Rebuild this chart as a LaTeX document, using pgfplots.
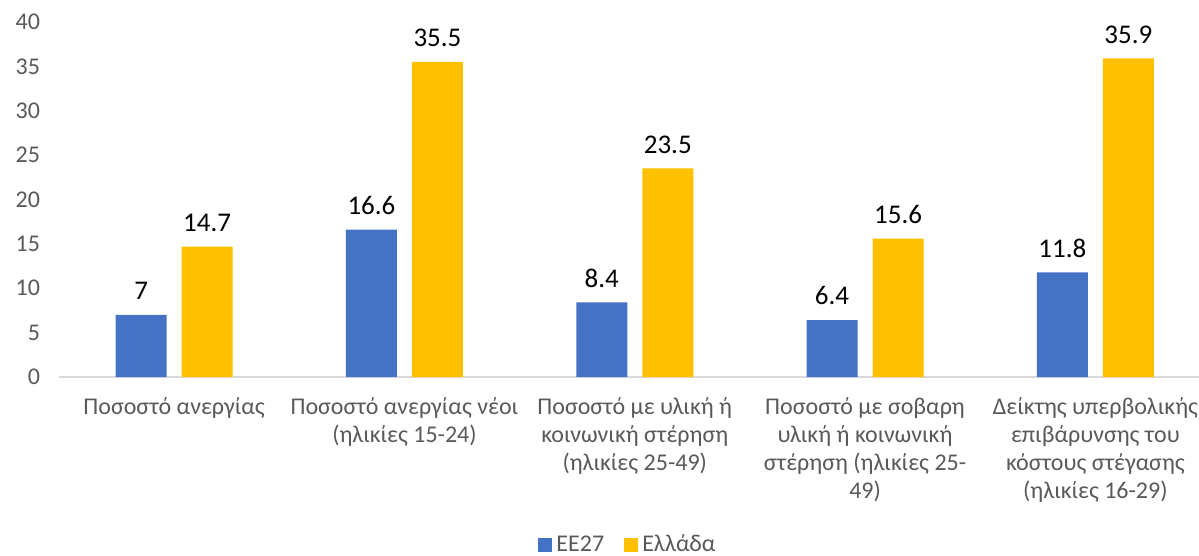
\documentclass[border=0pt]{standalone}
\usepackage{pgfplots}
\pgfplotsset{compat=1.18}
\usepackage{fontspec}
\setmainfont{Carlito}
\definecolor{cblue}{HTML}{4472C4}
\definecolor{cyellow}{HTML}{FFC000}
\definecolor{ctext}{HTML}{595959}
\definecolor{caxis}{HTML}{D9D9D9}
\begin{document}
\begin{tikzpicture}
\begin{axis}[
  scale only axis,
  width=570pt, height=177.5pt,
  xmin=-0.5, xmax=4.45,
  ymin=0, ymax=40,
  ytick={0,5,...,40},
  xtick={0,1,2,3,4},
  xticklabels={
    {Ποσοστό ανεργίας},
    {Ποσοστό ανεργίας νέοι\\(ηλικίες 15-24)},
    {Ποσοστό με υλική ή\\κοινωνική στέρηση\\(ηλικίες 25-49)},
    {Ποσοστό με σοβαρη\\υλική ή κοινωνική\\στέρηση (ηλικίες 25-\\49)},
    {Δείκτης υπερβολικής\\επιβάρυνσης του\\κόστους στέγασης\\(ηλικίες 16-29)}},
  xticklabel style={align=center, anchor=north, font=\fontsize{12}{14}\selectfont, text=ctext, yshift=-7pt},
  yticklabel style={font=\fontsize{12}{14}\selectfont, text=ctext, xshift=-6pt},
  /pgf/number format/assume math mode=true,
  major tick length=0pt,
  axis x line*=bottom,
  axis y line*=left,
  y axis line style={draw=none},
  x axis line style={caxis, line width=1pt, -},
  ybar,
  bar width=25.5pt,
  nodes near coords,
  every node near coord/.append style={font=\fontsize{13.5}{15}\selectfont, text=black, yshift=4pt},
  legend style={at={(0.5,0)}, anchor=center, yshift=-84pt, draw=none, legend columns=2,
    font=\fontsize{12}{14}\selectfont, text=ctext,
    /tikz/every even column/.append style={column sep=8pt}},
  legend image code/.code={\fill[#1] (0pt,-3.5pt) rectangle (7pt,3.5pt);},
  clip=false,
]
\addplot[fill=cblue, draw=none, bar shift=-16.5pt] coordinates {(0,7) (1,16.6) (2,8.4) (3,6.4) (4,11.8)};
\addplot[fill=cyellow, draw=none, bar shift=16.5pt] coordinates {(0,14.7) (1,35.5) (2,23.5) (3,15.6) (4,35.9)};
\legend{ΕΕ27, Ελλάδα}
\coordinate (O) at (rel axis cs:0,0);
\end{axis}
\pgfresetboundingbox
\path[use as bounding box] ([shift={(-29.5pt,-89.5pt)}]O) rectangle ([shift={(570pt,188.5pt)}]O);
\end{tikzpicture}
\end{document}
